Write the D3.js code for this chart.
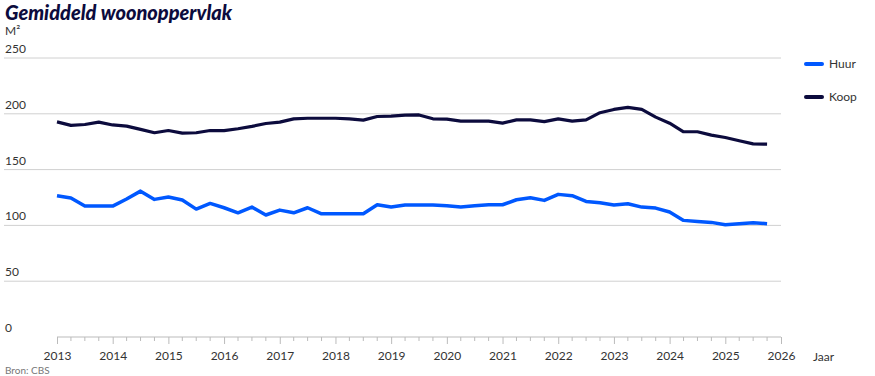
<!DOCTYPE html>
<html>
<head>
<meta charset="utf-8">
<script src="https://cdn.jsdelivr.net/npm/d3@7"></script>
<style>
  body { margin: 0; background: #fff; }
  svg { font-family: Lato, "Open Sans", sans-serif; }
</style>
</head>
<body>
<svg id="chart" width="875" height="376"></svg>
<script>
// kwartalen 2013 K1 t/m 2025 K4
const quarters = d3.range(52).map(i => 2013 + i / 4);
const yearTicks = d3.range(2013, 2027);
const yTicks = [0, 50, 100, 150, 200, 250];

const huur = [
  126.6, 124.5, 117.3, 117.3, 117.3, 123.6, 130.7, 123.3,
  125.4, 122.7, 114.6, 119.7, 115.8, 111.3, 116.4, 109.3,
  113.7, 111.3, 115.8, 110.4, 110.4, 110.4, 110.4, 118.5,
  116.4, 118.2, 118.2, 118.2, 117.6, 116.4, 117.6, 118.5,
  118.5, 123.0, 124.8, 122.4, 127.8, 126.6, 121.5, 120.3,
  118.2, 119.4, 116.4, 115.5, 112.0, 104.5, 103.6, 102.7,
  100.6, 101.5, 102.4, 101.5
];
const koop = [
  192.8, 189.6, 190.4, 192.5, 190.0, 189.0, 186.0, 183.0,
  185.0, 182.7, 183.0, 185.0, 185.0, 186.6, 188.7, 191.3,
  192.5, 195.5, 196.0, 196.0, 196.0, 195.5, 194.3, 197.6,
  198.0, 198.8, 199.0, 195.5, 195.2, 193.4, 193.4, 193.4,
  191.6, 194.6, 194.6, 193.0, 195.5, 193.4, 194.6, 201.0,
  203.9, 205.8, 204.0, 197.0, 191.6, 183.9, 183.9, 180.9,
  178.8, 175.8, 173.0, 172.8
];

const series = [
  {name: "Huur", values: huur, color: "#0058ff", width: 3.5},
  {name: "Koop", values: koop, color: "#0c0b3d", width: 3.2}
];

const svg = d3.select("#chart");
const margin = {top: 58, right: 94, bottom: 39, left: 57};
const W = 875, H = 376;

const x = d3.scaleLinear().domain([2013, 2026]).range([margin.left, W - margin.right]);
const y = d3.scaleLinear().domain([0, 250]).range([H - margin.bottom, margin.top]);

// titel
svg.append("text")
  .attr("x", 5).attr("y", 20)
  .attr("font-size", 20).attr("font-weight", 900).attr("font-style", "italic")
  .attr("fill", "#0c0b3d")
  .text("Gemiddeld woonoppervlak");

svg.append("text")
  .attr("x", 5).attr("y", 35)
  .attr("font-size", 12).attr("fill", "#333")
  .text("M²");

// rasterlijnen + labels
const grid = svg.append("g");
grid.selectAll("line").data(yTicks.filter(d => d > 0)).join("line")
  .attr("x1", 4).attr("x2", x(2026))
  .attr("y1", d => y(d)).attr("y2", d => y(d))
  .attr("stroke", "#d0d0d0").attr("stroke-width", 1);
grid.selectAll("text").data(yTicks).join("text")
  .attr("x", 5).attr("y", d => y(d) - 5)
  .attr("font-size", 12).attr("fill", "#333")
  .text(d => d);

// x-as
const xAxis = d3.axisBottom(x)
  .tickValues(yearTicks)
  .tickFormat(d3.format("d"))
  .tickSize(7)
  .tickPadding(7);
const gx = svg.append("g")
  .attr("transform", `translate(0,${y(0)})`)
  .call(xAxis);
gx.select(".domain").attr("stroke", "#bbb").attr("d", `M${x(2013)},0H${x(2026)}`);
gx.selectAll(".tick line").attr("stroke", "#bbb");
gx.selectAll(".tick text").attr("font-size", 12).attr("fill", "#333")
  .attr("font-family", "Lato, 'Open Sans', sans-serif");

// kwartaalstreepjes
gx.append("g").selectAll("line")
  .data(d3.range(2013, 2026, 0.25).filter(d => d % 1 !== 0))
  .join("line")
  .attr("x1", d => x(d)).attr("x2", d => x(d))
  .attr("y1", 0).attr("y2", 4)
  .attr("stroke", "#bbb");

svg.append("text")
  .attr("x", 813).attr("y", y(0) + 24)
  .attr("font-size", 12).attr("fill", "#333")
  .text("Jaar");

// lijnen
const line = d3.line()
  .x((d, i) => x(quarters[i]))
  .y(d => y(d));

svg.append("g").selectAll("path").data(series).join("path")
  .attr("d", s => line(s.values))
  .attr("fill", "none")
  .attr("stroke", s => s.color)
  .attr("stroke-width", s => s.width)
  .attr("stroke-linejoin", "round");

// legenda
const legend = svg.append("g").selectAll("g").data(series).join("g")
  .attr("transform", (d, i) => `translate(806,${64 + i * 33})`);
legend.append("line")
  .attr("x1", 0).attr("x2", 16)
  .attr("stroke", d => d.color).attr("stroke-width", 4)
  .attr("stroke-linecap", "round");
legend.append("text")
  .attr("x", 23).attr("y", 4)
  .attr("font-size", 12).attr("fill", "#333")
  .text(d => d.name);

// bron
svg.append("text")
  .attr("x", 5).attr("y", 374)
  .attr("font-size", 10).attr("fill", "#777")
  .text("Bron: CBS");
</script>
</body>
</html>
